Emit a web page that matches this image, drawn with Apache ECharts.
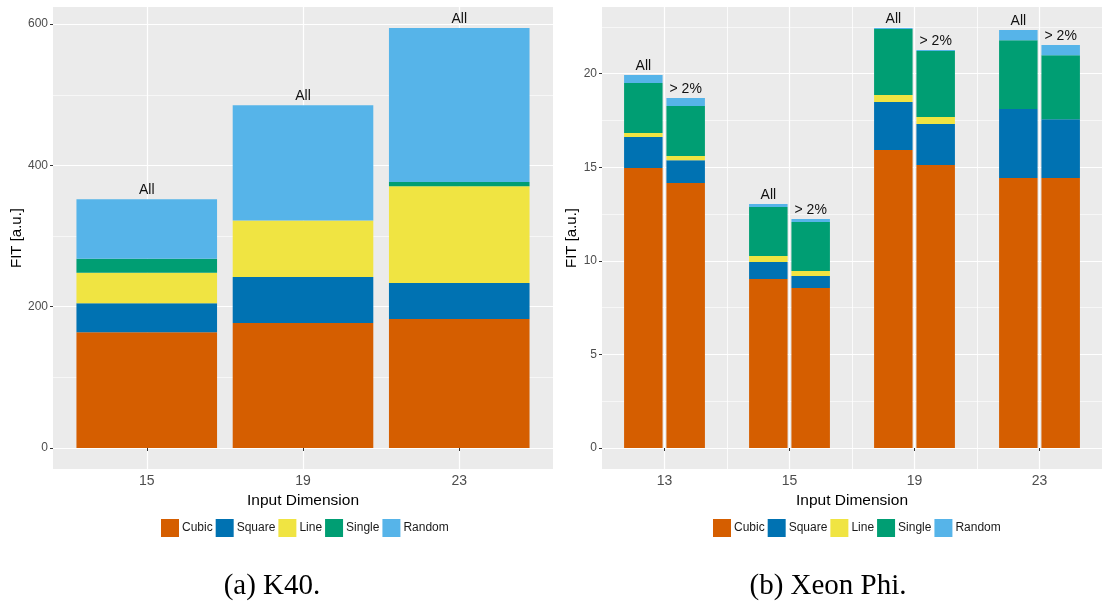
<!DOCTYPE html>
<html>
<head>
<meta charset="utf-8">
<script src="https://cdn.jsdelivr.net/npm/echarts@6/dist/echarts.min.js"></script>
<style>
html,body{margin:0;padding:0;background:#fff;}
#chart{width:1102px;height:605px;}
</style>
</head>
<body>
<div id="chart"></div>
<script>
// ---- Data ----
const seriesNames = ['Cubic', 'Square', 'Line', 'Single', 'Random'];
const seriesColors = ['#D55E00', '#0072B2', '#F0E442', '#009E73', '#56B4E9'];

// (a) K40
const k40Dims = ['15', '19', '23'];
const k40Cubic  = [164, 177, 182.5];
const k40Square = [41, 65, 51];
const k40Line   = [43, 80, 137];
const k40Single = [20, 0, 6];
const k40Random = [84, 163, 218];
const k40YTicks = [0, 200, 400, 600];
const k40YMinor = [100, 300, 500];

// (b) Xeon Phi — "All" and "> 2%"
const phiDims = ['13', '15', '19', '23'];
const phiAllCubic  = [14.96, 9.03, 15.92, 14.42];
const phiAllSquare = [1.65, 0.91, 2.56, 3.69];
const phiAllLine   = [0.22, 0.32, 0.38, 0];
const phiAllSingle = [2.67, 2.61, 3.52, 3.68];
const phiAllRandom = [0.43, 0.16, 0.06, 0.54];
const phiGtCubic  = [14.16, 8.55, 15.12, 14.42];
const phiGtSquare = [1.22, 0.64, 2.19, 3.15];
const phiGtLine   = [0.22, 0.27, 0.37, 0];
const phiGtSingle = [2.67, 2.61, 3.53, 3.42];
const phiGtRandom = [0.43, 0.16, 0.05, 0.54];
const phiYTicks = [0, 5, 10, 15, 20];
const phiYMinor = [2.5, 7.5, 12.5, 17.5, 22.5];
const phiXMinor = [1.5, 2.5, 3.5, 4.5];

const captionA = '(a) K40.';
const captionB = '(b) Xeon Phi.';
const labelAll = 'All';
const labelGt = '> 2%';

// ---- Helpers ----
const FONT = 'Liberation Sans, Arial, sans-serif';
const SERIF = 'Liberation Serif, Times New Roman, serif';
const GRID_BG = '#EBEBEB';
function totals(groups) {
  return groups[0].map((_, i) => groups.reduce((s, g) => s + g[i], 0));
}
const k40Groups = [k40Cubic, k40Square, k40Line, k40Single, k40Random];
const phiAllGroups = [phiAllCubic, phiAllSquare, phiAllLine, phiAllSingle, phiAllRandom];
const phiGtGroups = [phiGtCubic, phiGtSquare, phiGtLine, phiGtSingle, phiGtRandom];
const k40Top = Math.max(...totals(k40Groups));
const phiTop = Math.max(...totals(phiAllGroups), ...totals(phiGtGroups));

function makeSeries(groups, xIdx, yIdx, stack, barWidth, topLabel) {
  return groups.map((vals, k) => ({
    type: 'bar',
    name: seriesNames[k],
    xAxisIndex: xIdx,
    yAxisIndex: yIdx,
    stack: stack,
    barWidth: barWidth,
    barGap: '10%',
    itemStyle: { color: seriesColors[k] },
    // value first so the library stacks the value dimension; position second
    data: vals.map((v, i) => [v, i + 1]),
    encode: { x: 1, y: 0 },
    label: k === groups.length - 1 ? {
      show: true, position: 'top', distance: 2, formatter: topLabel,
      fontFamily: FONT, fontSize: 14, color: '#111'
    } : { show: false },
    emphasis: { disabled: true }
  }));
}

function mainY(grid, ticks, min, max, gap) {
  return {
    type: 'value', gridIndex: grid, min: min, max: max,
    name: 'FIT [a.u.]', nameLocation: 'middle', nameGap: gap,
    nameTextStyle: { fontFamily: FONT, fontSize: 15, color: '#000' },
    axisLine: { show: false },
    axisTick: { show: true, length: 3, customValues: ticks, lineStyle: { color: '#333', width: 1 } },
    axisLabel: { customValues: ticks, margin: 5, fontFamily: FONT, fontSize: 12, color: '#4D4D4D' },
    splitLine: { show: true, lineStyle: { color: '#fff', width: 1.2 } }
  };
}
function minorY(grid, ticks, min, max) {
  return {
    type: 'value', gridIndex: grid, min: min, max: max, position: 'left',
    axisLine: { show: false },
    axisTick: { show: false, customValues: ticks },
    axisLabel: { show: false, customValues: ticks },
    splitLine: { show: true, lineStyle: { color: '#fff', width: 0.6 } }
  };
}
function mainX(grid, dims, min, max) {
  const pos = dims.map((_, i) => i + 1);
  return {
    type: 'value', gridIndex: grid, min: min, max: max,
    name: 'Input Dimension', nameLocation: 'middle', nameGap: 19,
    nameTextStyle: { fontFamily: FONT, fontSize: 15.5, color: '#000' },
    axisLine: { show: false },
    axisTick: { show: true, length: 3, customValues: pos, lineStyle: { color: '#333', width: 1 } },
    axisLabel: { customValues: pos, margin: 5, fontFamily: FONT, fontSize: 14, color: '#4D4D4D',
      formatter: v => dims[Math.round(v) - 1] },
    splitLine: { show: true, lineStyle: { color: '#fff', width: 1.2 } }
  };
}
function minorX(grid, ticks, min, max) {
  return {
    type: 'value', gridIndex: grid, min: min, max: max,
    axisLine: { show: false },
    axisTick: { show: false, customValues: ticks },
    axisLabel: { show: false, customValues: ticks },
    splitLine: { show: true, lineStyle: { color: '#fff', width: 0.8 } }
  };
}

const legendCommon = {
  orient: 'horizontal', icon: 'rect', itemWidth: 18, itemHeight: 18, itemGap: 3, padding: 0,
  textStyle: { fontFamily: FONT, fontSize: 12, color: '#1a1a1a', padding: [0, 0, 0, -2] },
  data: seriesNames, selectedMode: false
};

const option = {
  animation: false,
  backgroundColor: '#fff',
  grid: [
    { left: 53, top: 7, width: 500, height: 462, show: true, backgroundColor: GRID_BG, borderWidth: 0 },
    { left: 602, top: 7, width: 505, height: 462, show: true, backgroundColor: GRID_BG, borderWidth: 0 }
  ],
  xAxis: [
    mainX(0, k40Dims, 0.4, k40Dims.length + 0.6),
    mainX(1, phiDims, 0.5, phiDims.length + 0.5),
    minorX(1, phiXMinor, 0.5, phiDims.length + 0.5)
  ],
  yAxis: [
    mainY(0, k40YTicks, -0.05 * k40Top, 1.05 * k40Top, 28),
    minorY(0, k40YMinor, -0.05 * k40Top, 1.05 * k40Top),
    mainY(1, phiYTicks, -0.05 * phiTop, 1.05 * phiTop, 21),
    minorY(1, phiYMinor, -0.05 * phiTop, 1.05 * phiTop)
  ],
  legend: [
    Object.assign({ left: 161, top: 519 }, legendCommon),
    Object.assign({ left: 713, top: 519 }, legendCommon)
  ],
  graphic: [
    { type: 'text', x: 272, y: 586, style: { text: captionA, fontFamily: SERIF, fontSize: 29, fill: '#000', textAlign: 'center', textVerticalAlign: 'middle' } },
    { type: 'text', x: 828, y: 586, style: { text: captionB, fontFamily: SERIF, fontSize: 29, fill: '#000', textAlign: 'center', textVerticalAlign: 'middle' } }
  ],
  series: [].concat(
    makeSeries(k40Groups, 0, 0, 'k40', 140.6, labelAll),
    makeSeries(phiAllGroups, 1, 2, 'all', 38.5, labelAll),
    makeSeries(phiGtGroups, 1, 2, 'gt', 38.5, labelGt)
  )
};

const chart = echarts.init(document.getElementById('chart'), null, { renderer: 'canvas' });
chart.setOption(option);
</script>
</body>
</html>
